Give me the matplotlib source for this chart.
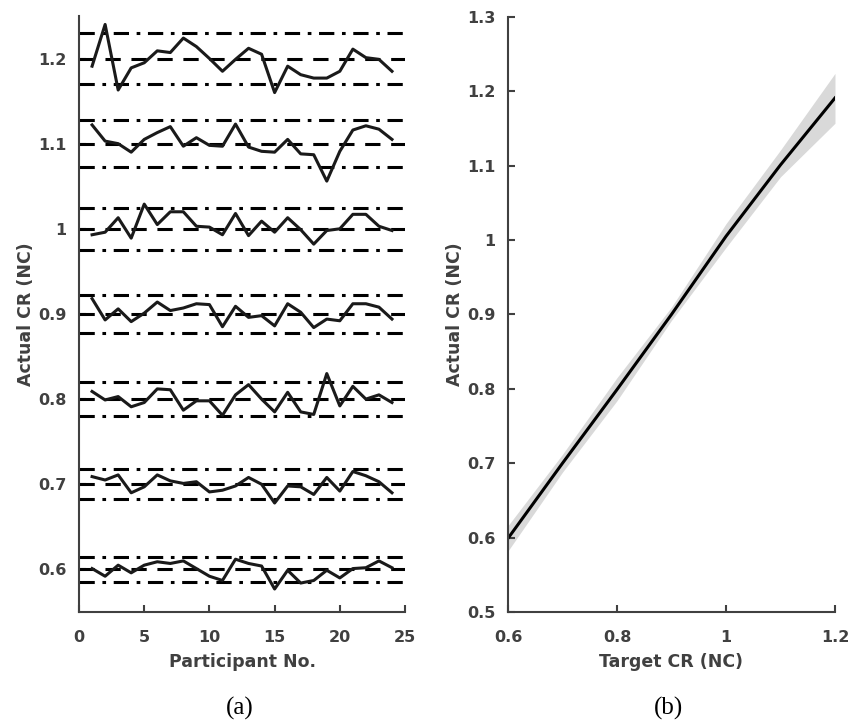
import numpy as np
import matplotlib
matplotlib.use('Agg')
import matplotlib.pyplot as plt

# participant numbers and the target compression ratios
participants = np.arange(1, 25)
targets = [0.6, 0.7, 0.8, 0.9, 1.0, 1.1, 1.2]

# actual CR per participant, one list per target
cr_060 = [0.601, 0.592, 0.605, 0.596, 0.605, 0.609, 0.607, 0.610, 0.601, 0.592, 0.587, 0.612,
          0.607, 0.604, 0.577, 0.599, 0.584, 0.587, 0.599, 0.590, 0.601, 0.602, 0.610, 0.602]
cr_070 = [0.709, 0.705, 0.711, 0.690, 0.697, 0.711, 0.704, 0.701, 0.703, 0.691, 0.693, 0.698,
          0.708, 0.700, 0.678, 0.698, 0.697, 0.688, 0.708, 0.692, 0.715, 0.710, 0.703, 0.690]
cr_080 = [0.809, 0.799, 0.803, 0.791, 0.796, 0.812, 0.811, 0.787, 0.798, 0.798, 0.781, 0.805,
          0.817, 0.800, 0.785, 0.808, 0.785, 0.782, 0.830, 0.792, 0.815, 0.800, 0.805, 0.796]
cr_090 = [0.918, 0.893, 0.906, 0.891, 0.901, 0.914, 0.904, 0.907, 0.912, 0.911, 0.885, 0.909,
          0.896, 0.898, 0.886, 0.912, 0.902, 0.884, 0.894, 0.892, 0.912, 0.912, 0.908, 0.894]
cr_100 = [0.993, 0.996, 1.013, 0.989, 1.029, 1.005, 1.020, 1.020, 1.003, 1.002, 0.993, 1.018,
          0.992, 1.009, 0.996, 1.013, 0.999, 0.982, 0.998, 1.000, 1.017, 1.017, 1.003, 0.998]
cr_110 = [1.122, 1.103, 1.100, 1.090, 1.105, 1.113, 1.120, 1.097, 1.107, 1.098, 1.097, 1.123,
          1.096, 1.091, 1.090, 1.105, 1.088, 1.087, 1.056, 1.091, 1.116, 1.121, 1.117, 1.105]
cr_120 = [1.191, 1.240, 1.163, 1.189, 1.195, 1.209, 1.207, 1.224, 1.214, 1.200, 1.185, 1.199,
          1.212, 1.205, 1.160, 1.191, 1.181, 1.177, 1.177, 1.185, 1.211, 1.201, 1.199, 1.185]
all_cr = [cr_060, cr_070, cr_080, cr_090, cr_100, cr_110, cr_120]

# panel (b): mean actual CR and shaded spread
mean_cr = [0.599, 0.700, 0.799, 0.900, 1.005, 1.101, 1.191]
lower_cr = [0.582, 0.688, 0.784, 0.892, 0.990, 1.085, 1.157]
upper_cr = [0.616, 0.712, 0.815, 0.910, 1.022, 1.121, 1.224]

tol = 0.025   # +/- 2.5 % band

txtcol = '#404040'
fsize = 12.5   # axis labels
tsize = 11.5   # tick labels
plt.rcParams['font.family'] = ['DejaVu Sans']
plt.rcParams['font.weight'] = 'bold'
plt.rcParams['axes.labelweight'] = 'bold'
plt.rcParams['axes.edgecolor'] = txtcol
plt.rcParams['xtick.color'] = txtcol
plt.rcParams['ytick.color'] = txtcol
plt.rcParams['axes.labelcolor'] = txtcol

fig = plt.figure(figsize=(8.61, 7.24), dpi=100)
ax1 = fig.add_axes([0.0918, 0.1547, 0.3786, 0.8233])
ax2 = fig.add_axes([0.5900, 0.1547, 0.3798, 0.8220])

# (a) individual participants
for t, vals in zip(targets, all_cr):
    ax1.axhline(t, color='black', ls=(0, (5, 3.5)), lw=2.2)
    ax1.axhline(t * (1 + tol), color='black', ls=(0, (5, 2.5, 1.2, 2.5)), lw=2.2)
    ax1.axhline(t * (1 - tol), color='black', ls=(0, (5, 2.5, 1.2, 2.5)), lw=2.2)
    ax1.plot(participants, vals, color='#1a1a1a', lw=2.2)

ax1.set_xlim(0, 25)
ax1.set_ylim(0.55, 1.25)
ax1.set_xticks([0, 5, 10, 15, 20, 25])
ax1.set_yticks(targets)
ax1.set_yticklabels(['0.6', '0.7', '0.8', '0.9', '1', '1.1', '1.2'])
ax1.set_xlabel('Participant No.', fontsize=fsize, labelpad=6)
ax1.set_ylabel('Actual CR (NC)', fontsize=fsize, labelpad=2)

# (b) mean with spread
ax2.fill_between(targets, lower_cr, upper_cr, color='#d9d9d9', lw=0)
ax2.plot(targets, mean_cr, color='black', lw=2.2)
ax2.set_xlim(0.6, 1.2)
ax2.set_ylim(0.5, 1.3)
ax2.set_xticks([0.6, 0.8, 1.0, 1.2])
ax2.set_xticklabels(['0.6', '0.8', '1', '1.2'])
ax2.set_yticks([0.5, 0.6, 0.7, 0.8, 0.9, 1.0, 1.1, 1.2, 1.3])
ax2.set_yticklabels(['0.5', '0.6', '0.7', '0.8', '0.9', '1', '1.1', '1.2', '1.3'])
ax2.set_xlabel('Target CR (NC)', fontsize=fsize, labelpad=6)
ax2.set_ylabel('Actual CR (NC)', fontsize=fsize, labelpad=2)

for ax in (ax1, ax2):
    ax.spines['top'].set_visible(False)
    ax.spines['right'].set_visible(False)
    ax.spines['left'].set_linewidth(1.5)
    ax.spines['bottom'].set_linewidth(1.5)
    ax.tick_params(direction='in', length=5, width=1.5, labelsize=tsize)
    ax.tick_params(axis='x', pad=13)
    ax.tick_params(axis='y', pad=9)

fig.text(0.279, 0.006, '(a)', ha='center', va='bottom', fontsize=18,
         family='Liberation Serif', weight='normal', color='black')
fig.text(0.776, 0.006, '(b)', ha='center', va='bottom', fontsize=18,
         family='Liberation Serif', weight='normal', color='black')

plt.savefig('out.png', dpi=100)
plt.close()
